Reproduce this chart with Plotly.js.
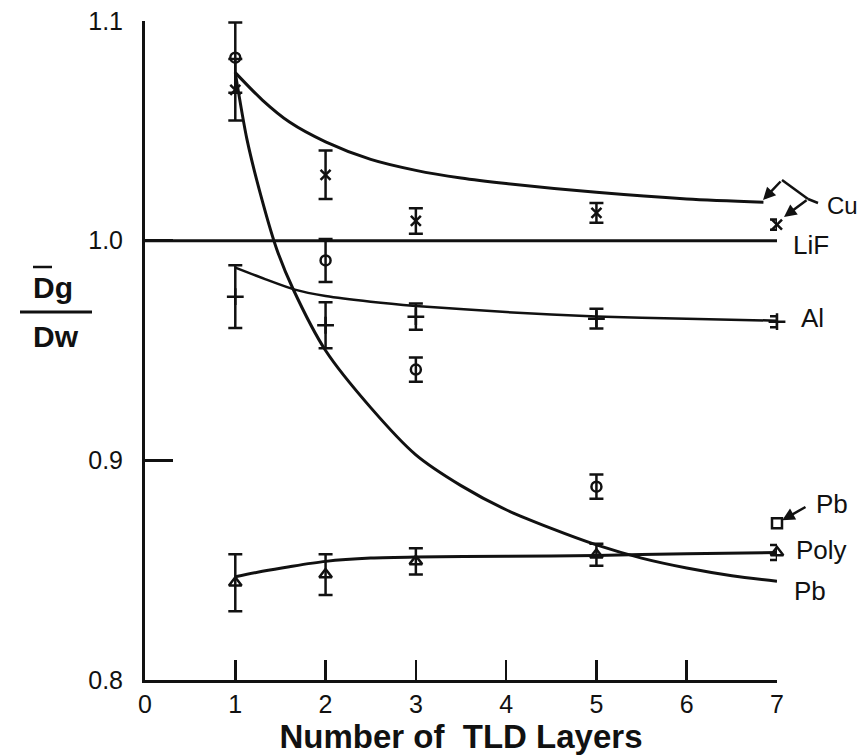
<!DOCTYPE html>
<html>
<head>
<meta charset="utf-8">
<script src="https://cdn.plot.ly/plotly-3.0.1.min.js"></script>
<style>html,body{margin:0;padding:0;background:#fff;}#chart{width:860px;height:756px;}</style>
</head>
<body>
<div id="chart"></div>
<script>
// ---- data ----
const layerTicks = [0, 1, 2, 3, 4, 5, 6, 7];
const layerTickText = ['0', '1', '2', '3', '4', '5', '6', '7'];
const ratioTicks = [0.8, 0.9, 1.0, 1.1];
const ratioTickText = ['0.8', '0.9', '1.0', '1.1'];

// measured points (with error bars)
const pointLayers = [1, 2, 3, 5, 7];
const cuVals = [1.0687, 1.030, 1.009, 1.0127, 1.0073];
const cuErr  = [0.014, 0.011, 0.0058, 0.0045, 0.0023];
const pbLayers = [1, 2, 3, 5];
const pbVals = [1.0833, 0.991, 0.9413, 0.888];
const pbErr  = [0.016, 0.0098, 0.0055, 0.0055];
const alVals = [0.9745, 0.9615, 0.9654, 0.9645, 0.9631];
const alErr  = [0.0143, 0.0105, 0.006, 0.0045, 0.0025];
const polyVals = [0.8443, 0.848, 0.854, 0.857, 0.858];
const polyErr  = [0.013, 0.0093, 0.006, 0.005, 0.0034];
const pbSquareLayer = [7];
const pbSquareVal = [0.8714];

// fitted curves
const lifX = [0, 7];
const lifY = [1.0, 1.0];
const cuCurveX = [1, 1.3, 1.6, 2, 2.5, 3, 3.5, 4, 5, 6, 6.85];
const cuCurveY = [1.0765, 1.064, 1.054, 1.045, 1.037, 1.032, 1.0285, 1.026, 1.022, 1.019, 1.0175];
const pbCurveX = [1, 1.13, 1.3, 1.46, 1.64, 2, 2.5, 3, 3.5, 4, 4.5, 5, 5.5, 6, 6.5, 7];
const pbCurveY = [1.0765, 1.046, 1.018, 0.996, 0.978, 0.950, 0.924, 0.9025, 0.8885, 0.8775, 0.869, 0.8615, 0.8555, 0.851, 0.8475, 0.845];
const alCurveX = [1, 1.33, 1.66, 2, 2.5, 3, 4, 5, 6, 7];
const alCurveY = [0.9877, 0.9825, 0.9777, 0.9748, 0.9722, 0.9703, 0.9675, 0.9655, 0.9644, 0.9636];
const polyCurveX = [1, 1.3, 1.6, 2, 2.5, 3, 4, 5, 6, 7];
const polyCurveY = [0.847, 0.8495, 0.8516, 0.854, 0.8555, 0.856, 0.8563, 0.8567, 0.8575, 0.858];

const BLACK = '#111';
const FONT = 'Liberation Sans, Arial, sans-serif';

function curve(x, y, w) {
  return {x: x, y: y, type: 'scatter', mode: 'lines', hoverinfo: 'skip',
          line: {color: BLACK, width: w, shape: 'spline', smoothing: 0.8}, showlegend: false};
}
function pts(x, y, err, symbol, size) {
  const t = {x: x, y: y, type: 'scatter', mode: 'markers', cliponaxis: false, showlegend: false,
    marker: {symbol: symbol, size: size, color: BLACK, line: {color: BLACK, width: 2.5}}};
  if (err) t.error_y = {type: 'data', array: err, visible: true, color: BLACK, thickness: 2.5, width: 7};
  return t;
}

const traces = [
  {x: lifX, y: lifY, type: 'scatter', mode: 'lines', line: {color: BLACK, width: 3}, showlegend: false},
  curve(cuCurveX, cuCurveY, 3),
  curve(pbCurveX, pbCurveY, 3),
  curve(alCurveX, alCurveY, 2.5),
  curve(polyCurveX, polyCurveY, 3),
  pts(pointLayers, cuVals, cuErr, 'x-thin-open', 10),
  pts(pbLayers, pbVals, pbErr, 'circle-open', 10),
  pts(pointLayers, alVals, alErr, 'cross-thin-open', 12),
  pts(pointLayers, polyVals, polyErr, 'triangle-up-open', 11),
  pts(pbSquareLayer, pbSquareVal, null, 'square-open', 10)
];

// helpers to convert reference pixel positions of decorations to paper coordinates
const L = 145, R = 83, T = 21, B = 76, W = 860, H = 756;
const px = v => (v - L) / (W - L - R);
const py = v => (H - B - v) / (H - T - B);

function label(text, xPix, yPix, size, bold) {
  return {text: bold ? '<b>' + text + '</b>' : text, xref: 'paper', yref: 'paper',
          x: px(xPix), y: py(yPix), xanchor: 'left', yanchor: 'middle', showarrow: false,
          font: {family: FONT, size: size, color: BLACK}};
}
function arrow(headX, headY, dx, dy) {
  return {text: '', xref: 'paper', yref: 'paper', x: px(headX), y: py(headY), ax: dx, ay: dy,
          showarrow: true, arrowhead: 2, arrowsize: 1, arrowwidth: 2.5, arrowcolor: BLACK};
}

const annotations = [
  label('Cu', 825, 205, 24),
  label('LiF', 791, 245, 26),
  label('Al', 799, 318, 26),
  label('Poly', 794, 550, 26),
  label('Pb', 792, 591, 26),
  label('Pb', 814, 504, 26),
  // Cu pointer arrows
  arrow(763, 200, 19, -20),
  arrow(784, 217, 24, -18),
  // Pb square pointer
  {text: '', xref: 'x', yref: 'y', x: pbSquareLayer[0], y: pbSquareVal[0], ax: 30, ay: -17,
   standoff: 6, showarrow: true, arrowhead: 2, arrowsize: 1, arrowwidth: 2.5, arrowcolor: BLACK},
  // y-axis label as fraction
  {text: '<b>Dg</b>', xref: 'paper', yref: 'paper', x: px(31), y: py(287), xanchor: 'left', yanchor: 'middle',
   showarrow: false, font: {family: FONT, size: 30, color: BLACK}},
  {text: '<b>Dw</b>', xref: 'paper', yref: 'paper', x: px(31), y: py(336), xanchor: 'left', yanchor: 'middle',
   showarrow: false, font: {family: FONT, size: 30, color: BLACK}}
];

const shapes = [
  // Cu bracket
  {type: 'line', xref: 'paper', yref: 'paper', x0: px(818), y0: py(203), x1: px(808), y1: py(199), line: {color: BLACK, width: 2.5}},
  {type: 'line', xref: 'paper', yref: 'paper', x0: px(808), y0: py(199), x1: px(782), y1: py(180), line: {color: BLACK, width: 2.5}},
  // fraction bar and overline
  {type: 'line', xref: 'paper', yref: 'paper', x0: px(20), y0: py(312), x1: px(92), y1: py(312), line: {color: BLACK, width: 3}},
  {type: 'line', xref: 'paper', yref: 'paper', x0: px(33), y0: py(267), x1: px(52), y1: py(267), line: {color: BLACK, width: 2.5}}
];

const layout = {
  width: 860, height: 756,
  margin: {l: L, r: R, t: T, b: B, pad: 0},
  paper_bgcolor: '#fff', plot_bgcolor: '#fff',
  showlegend: false,
  font: {family: FONT, color: BLACK},
  xaxis: {
    range: [0, 7], tickvals: layerTicks, ticktext: layerTickText,
    showline: true, linecolor: BLACK, linewidth: 3, showgrid: false, zeroline: false,
    ticks: 'inside', ticklen: 20, tickwidth: 2.5, tickcolor: BLACK,
    tickfont: {family: FONT, size: 25, color: BLACK}, ticklabelstandoff: 0,
    title: {text: '<b>Number of&nbsp;&nbsp;TLD Layers</b>', font: {family: FONT, size: 33, color: BLACK}, standoff: 6}
  },
  yaxis: {
    range: [0.8, 1.1], tickvals: ratioTicks, ticktext: ratioTickText,
    showline: true, linecolor: BLACK, linewidth: 3, showgrid: false, zeroline: false,
    ticks: 'inside', ticklen: 28, tickwidth: 2.5, tickcolor: BLACK,
    tickfont: {family: FONT, size: 25, color: BLACK}, ticklabelstandoff: 14
  },
  annotations: annotations,
  shapes: shapes
};

Plotly.newPlot('chart', traces, layout, {displayModeBar: false, staticPlot: true});
</script>
</body>
</html>
